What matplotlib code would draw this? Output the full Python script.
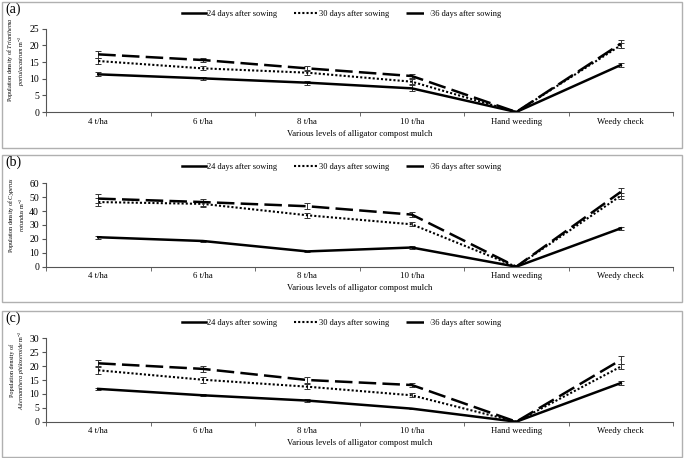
import numpy as np
import matplotlib
matplotlib.use("Agg")
import matplotlib.pyplot as plt
from matplotlib.patches import Rectangle

plt.rcParams['font.family'] = ['Liberation Serif', 'DejaVu Serif']
plt.rcParams['mathtext.fontset'] = 'custom'
plt.rcParams['mathtext.it'] = 'Liberation Serif:italic'
plt.rcParams['mathtext.rm'] = 'Liberation Serif'

categories = ['4 t/ha', '6 t/ha', '8 t/ha', '10 t/ha', 'Hand weeding', 'Weedy check']
series_names = ['24 days after sowing', '30 days after sowing', '36 days after sowing']

# panel (a) Trianthema portulacastrum
a_24 = [11.3, 10.1, 8.8, 7.1, 0, 14.1]
a_30 = [15.3, 13.1, 11.8, 9.1, 0, 20.0]
a_36 = [17.3, 15.6, 13.1, 10.8, 0, 20.5]
a_24_err = [0.6, 0.4, 0.6, 0.9, 0, 0.5]
a_30_err = [0.9, 0.6, 0.7, 0.7, 0, 0.8]
a_36_err = [1.0, 0.7, 0.8, 0.6, 0, 1.2]

# panel (b) Cyperus rotundus
b_24 = [21.2, 18.5, 11.0, 13.8, 0, 27.6]
b_30 = [46.5, 45.2, 37.0, 30.5, 0, 51.0]
b_36 = [49.0, 46.5, 43.5, 37.5, 0, 53.8]
b_24_err = [1.0, 0.8, 0.5, 1.2, 0, 1.0]
b_30_err = [3.0, 2.0, 1.8, 1.5, 0, 2.0]
b_36_err = [3.0, 2.5, 2.0, 2.0, 0, 3.0]

# panel (c) Alternanthera philoxeroide
c_24 = [11.8, 9.5, 7.6, 4.7, 0, 13.9]
c_30 = [18.5, 15.1, 12.6, 9.5, 0, 19.8]
c_36 = [21.0, 19.0, 15.0, 13.2, 0, 22.2]
c_24_err = [0.5, 0.4, 0.4, 0.3, 0, 0.8]
c_30_err = [1.5, 1.0, 1.0, 0.7, 0, 1.0]
c_36_err = [1.2, 1.0, 1.0, 0.8, 0, 1.5]

panels = [
    ('(a)', [a_24, a_30, a_36], [a_24_err, a_30_err, a_36_err], 25, 5,
     'Population density of $\\it{Trianthema}$\n$\\it{portulacastrum}$ m$^{-2}$'),
    ('(b)', [b_24, b_30, b_36], [b_24_err, b_30_err, b_36_err], 60, 10,
     'Population density of $\\it{Cyperus}$\n$\\it{rotundus}$ m$^{-2}$'),
    ('(c)', [c_24, c_30, c_36], [c_24_err, c_30_err, c_36_err], 30, 5,
     'Population density of\n$\\it{Alternanthera\\ philoxeroide}$ m$^{-2}$'),
]

W, H = 685, 458
fig = plt.figure(figsize=(W / 100, H / 100), dpi=100)

# pixel layout of each panel: (box top, box bottom, axes top, axes bottom, legend y, label y)
layout = [
    (2, 148, 28.7, 112.0, 14, 9),
    (155, 302, 183.3, 266.7, 167, 162),
    (311, 457, 338.3, 421.7, 323, 318),
]

styles = [
    dict(linestyle='-', linewidth=1.8),
    dict(linestyle=(0, (1, 1)), linewidth=1.5),
    dict(linestyle=(0, (7, 2.5)), linewidth=1.8),
]

x = np.arange(len(categories))
ax_left, ax_right = 46, 673

for (tag, ys, errs, ymax, ystep, ylab), (btop, bbot, atop, abot, ly, ty) in zip(panels, layout):
    fig.patches.append(Rectangle((2 / W, 1 - bbot / H), (682 - 2) / W, (bbot - btop) / H,
                                 transform=fig.transFigure, fill=False,
                                 edgecolor='#b0b0b0', linewidth=1.0))
    ax = fig.add_axes([ax_left / W, 1 - abot / H, (ax_right - ax_left) / W, (abot - atop) / H])
    handles = []
    for yv, ev, st, name in zip(ys, errs, styles, series_names):
        ax.errorbar(x, yv, yerr=ev, fmt='none', ecolor='#333333', elinewidth=0.7,
                    capsize=2, capthick=0.7)
        ln, = ax.plot(x, yv, color='black', label=name, **st)
        handles.append(ln)
    ax.set_xlim(-0.5, len(categories) - 0.5)
    ax.set_ylim(0, ymax)
    ax.set_yticks(np.arange(0, ymax + 0.1, ystep))
    ax.set_xticks(x)
    ax.set_xticklabels(categories, fontsize=6.3)
    ax.set_xticks(np.arange(-0.5, len(categories) + 0.5, 1), minor=True)
    ax.tick_params(axis='x', which='major', length=0, pad=4)
    ax.tick_params(axis='x', which='minor', length=3, color='#555555', direction='out')
    ax.tick_params(axis='y', labelsize=7, length=3, color='#555555', pad=2)
    for s in ['top', 'right']:
        ax.spines[s].set_visible(False)
    for s in ['left', 'bottom']:
        ax.spines[s].set_color('#555555')
        ax.spines[s].set_linewidth(0.8)
    ax.set_ylabel(ylab, fontsize=4.4, linespacing=1.3)
    ax.yaxis.set_label_coords(-0.030, 0.62)
    ax.set_xlabel('Various levels of alligator compost mulch', fontsize=6.2, labelpad=3)
    ax.legend(handles=handles, loc='center', bbox_to_anchor=(341.5 / W, 1 - ly / H),
              bbox_transform=fig.transFigure, ncol=3, frameon=False, fontsize=6,
              handlelength=2.9, handletextpad=0.1, columnspacing=2.0)
    fig.text(5 / W, 1 - ty / H, tag, fontsize=10, ha='left', va='center')

fig.savefig('out.png', dpi=100)
